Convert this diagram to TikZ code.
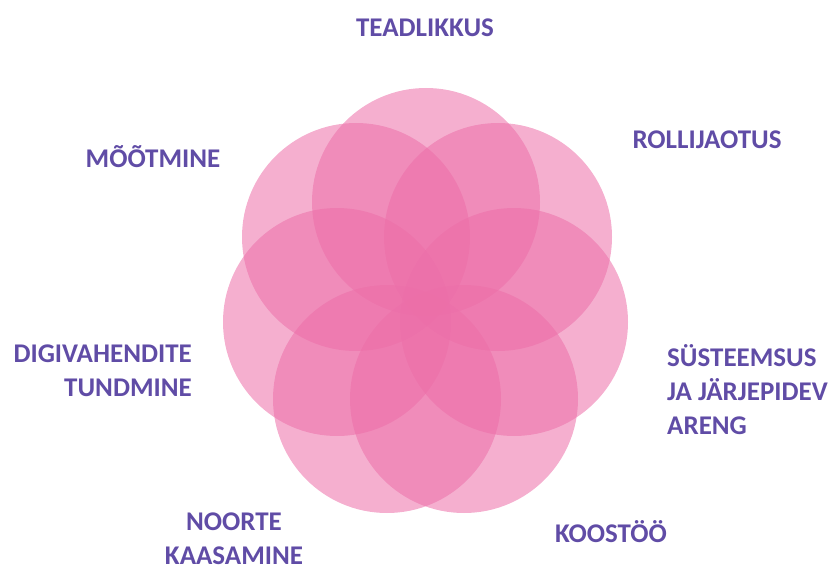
\documentclass[tikz,border=0pt]{standalone}
\usepackage{fontspec}
\setmainfont{Carlito}
\definecolor{petalpink}{RGB}{236,110,168}
\definecolor{labelpurple}{RGB}{96,76,166}
\begin{document}
\begin{tikzpicture}[x=1pt, y=-1pt,
        petal/.style={fill=petalpink, fill opacity=0.55},
        label/.style={text=labelpurple, inner sep=0pt, font=\fontsize{27}{34}\selectfont\bfseries}]
        \useasboundingbox (0,0) rectangle (832,572);

        % Petals
        \fill[petal] (426,202) circle[radius=114pt];
        \fill[petal] (498,237) circle[radius=114pt];
        \fill[petal] (514,322) circle[radius=114pt];
        \fill[petal] (464,399) circle[radius=114pt];
        \fill[petal] (387,399) circle[radius=114pt];
        \fill[petal] (337,322) circle[radius=114pt];
        \fill[petal] (356,237) circle[radius=114pt];

        % Labels
        \node[label] (teadlikkus) at (425,28) {TEADLIKKUS};
        \node[label] (rollijaotus) at (707,140) {ROLLIJAOTUS};
        \node[label, anchor=west, align=left] (systeemsus) at (667,390) {SÜSTEEMSUS\\JA JÄRJEPIDEV\\ARENG};
        \node[label] (koostoo) at (611,532) {KOOSTÖÖ};
        \node[label, align=center] (noorte) at (234,539) {NOORTE\\KAASAMINE};
        \node[label, anchor=east, align=right] (digivahendite) at (192,371) {DIGIVAHENDITE\\TUNDMINE};
        \node[label] (mootmine) at (153,157) {MÕÕTMINE};
    \end{tikzpicture}
\end{document}
